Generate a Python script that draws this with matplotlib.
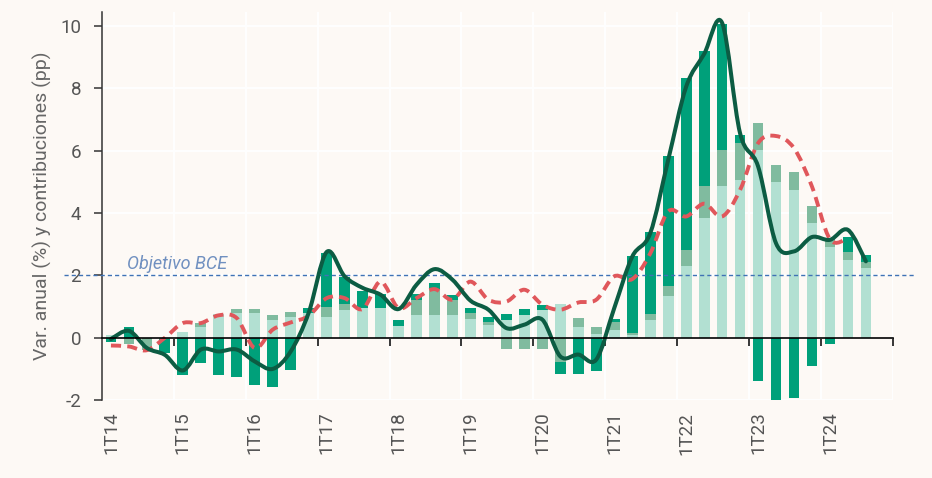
import numpy as np
import matplotlib
matplotlib.use("Agg")
import matplotlib.pyplot as plt
import matplotlib.transforms as mtransforms
from matplotlib.path import Path
from matplotlib.patches import PathPatch

plt.rcParams['font.family'] = ['Roboto', 'DejaVu Sans']
plt.rcParams['axes.unicode_minus'] = False

# Quarterly data, 1T14 .. 3T24 (43 quarters)
n_quarters = 43
year_labels = ["1T14", "1T15", "1T16", "1T17", "1T18", "1T19",
               "1T20", "1T21", "1T22", "1T23", "1T24"]

# Contributions (pp) - light, medium and dark components
contrib_light = [0.1, 0.0, 0.0, 0.0, 0.18, 0.36, 0.76, 0.79, 0.79, 0.56,
                 0.65, 0.79, 0.68, 0.9, 0.95, 0.95, 0.38, 0.74, 0.74, 0.74,
                 0.6, 0.42, 0.58, 0.72, 0.88, 1.09, 0.34, 0.13, 0.26, 0.1,
                 0.56, 1.35, 2.29, 3.84, 4.87, 5.06, 6.03, 4.99, 4.74, 3.68,
                 2.9, 2.48, 2.23]
contrib_medium = [0.0, -0.19, -0.38, -0.05, 0.0, 0.1, 0.0, 0.13, 0.13, 0.16,
                  0.18, 0.0, 0.3, 0.19, 0.0, 0.0, 0.0, 0.48, 0.82, 0.46,
                  0.19, 0.1, -0.36, -0.36, -0.36, -0.78, 0.28, 0.2, 0.24, 0.06,
                  0.2, 0.32, 0.51, 1.04, 1.15, 1.18, 0.85, 0.56, 0.59, 0.53,
                  0.26, 0.27, 0.19]
contrib_dark = [-0.15, 0.34, 0.0, -0.45, -1.19, -0.81, -1.19, -1.27, -1.52, -1.58,
                -1.03, 0.15, 1.73, 0.87, 0.55, 0.46, 0.19, 0.19, 0.19, 0.18,
                0.17, 0.14, 0.17, 0.2, 0.17, -0.38, -1.15, -1.08, 0.09, 2.47,
                2.62, 4.16, 5.52, 4.33, 4.04, 0.27, -1.4, -1.99, -1.93, -0.9,
                -0.19, 0.48, 0.24]

# Annual change (%)
headline = [-0.04, 0.22, -0.33, -0.55, -1.05, -0.38, -0.44, -0.38, -0.76, -1.0,
            -0.44, 0.8, 2.75, 1.97, 1.6, 1.38, 0.92, 1.7, 2.2, 1.86,
            1.19, 0.9, 0.31, 0.42, 0.58, -0.6, -0.54, -0.7, 0.95, 2.6,
            3.35, 5.7, 8.05, 9.1, 10.1, 6.56, 5.5, 3.03, 2.77, 3.23,
            3.14, 3.46, 2.45]
core = [-0.25, -0.28, -0.4, 0.0, 0.47, 0.47, 0.72, 0.63, -0.33, 0.26,
        0.49, 0.7, 1.27, 1.27, 0.92, 1.8, 0.95, 1.27, 1.56, 1.22,
        1.8, 1.22, 1.16, 1.54, 1.06, 0.9, 1.13, 1.22, 1.97, 1.88,
        2.7, 4.05, 3.89, 4.3, 3.89, 4.74, 6.24, 6.47, 6.08, 4.85,
        3.16, 3.19]

ecb_target = 2.0

BG = '#fdf9f5'
C_LIGHT = '#b2e0d2'
C_MEDIUM = '#80bb9f'
C_DARK = '#00a07a'
C_HEAD = '#0c5c43'
C_CORE = '#e0575b'
C_TARGET = '#3f72b5'
C_TEXT = '#555555'


def smooth_path(xs, ys):
    """Smoothed line through the points (Catmull-Rom as cubic Beziers)"""
    pts = np.column_stack([xs, ys]).astype(float)
    n = len(pts)
    verts = [pts[0]]
    codes = [Path.MOVETO]
    for i in range(n - 1):
        p0 = pts[i - 1] if i > 0 else pts[i]
        p1 = pts[i]
        p2 = pts[i + 1]
        p3 = pts[i + 2] if i + 2 < n else pts[i + 1]
        verts += [p1 + (p2 - p0) / 6, p2 - (p3 - p1) / 6, p2]
        codes += [Path.CURVE4] * 3
    return Path(verts, codes)


fig = plt.figure(figsize=(9.32, 4.78), dpi=100, facecolor=BG)
ax = fig.add_axes([0.1094, 0.163, 0.8486, 0.812], facecolor=BG)

x = np.arange(n_quarters)
pos_bottom = np.zeros(n_quarters)
neg_bottom = np.zeros(n_quarters)
for vals, col in [(contrib_light, C_LIGHT), (contrib_medium, C_MEDIUM), (contrib_dark, C_DARK)]:
    v = np.array(vals)
    bottom = np.where(v >= 0, pos_bottom, neg_bottom)
    ax.bar(x, v, width=0.6, bottom=bottom, color=col, zorder=2, linewidth=0)
    pos_bottom += np.where(v > 0, v, 0)
    neg_bottom += np.where(v < 0, v, 0)

# ECB target line (runs a little past the axes on both sides)
trans = mtransforms.blended_transform_factory(ax.transAxes, ax.transData)
ax.plot([-0.048, 1.028], [ecb_target, ecb_target], transform=trans, color=C_TARGET,
        lw=1.0, linestyle=(0, (3, 2.2)), clip_on=False, zorder=3)
ax.text(0.9, ecb_target + 0.07, "Objetivo BCE", ha='left', va='bottom', style='italic',
        fontsize=13, color='#7090c0', zorder=3)

ax.add_patch(PathPatch(smooth_path(x[:len(core)], core), fill=False, edgecolor=C_CORE,
                       lw=2.8, linestyle=(0, (2.6, 1.6)), zorder=4))
ax.add_patch(PathPatch(smooth_path(x, headline), fill=False, edgecolor=C_HEAD,
                       lw=2.9, zorder=5, capstyle='round', joinstyle='round'))

ax.set_xlim(-0.5, n_quarters + 0.5)
ax.set_ylim(-2, 10.45)
ax.set_yticks(np.arange(-2, 11, 2))
ax.set_xticks(np.arange(3.5, n_quarters + 1, 4))
ax.tick_params(axis='x', direction='out', length=6, width=1.1, color='black',
               labelbottom=False)
ax.tick_params(axis='y', direction='out', length=6, width=1.1, color='#333333',
               labelcolor=C_TEXT, labelsize=13.5, pad=9)

for k, lab in enumerate(year_labels):
    ax.text(4 * k, -0.03, lab, transform=mtransforms.blended_transform_factory(ax.transData, ax.transAxes),
            rotation=90, ha='center', va='top', fontsize=13.5, color=C_TEXT)

ax.spines['bottom'].set_position(('data', 0))
ax.spines['bottom'].set_color('black')
ax.spines['bottom'].set_linewidth(1.2)
ax.spines['bottom'].set_zorder(6)
ax.spines['left'].set_color('#333333')
ax.spines['left'].set_linewidth(1.1)
ax.spines['top'].set_visible(False)
ax.spines['right'].set_visible(False)

ax.grid(True, color='white', lw=1.3)
ax.set_axisbelow(True)

ax.set_ylabel("Var. anual (%) y contribuciones (pp)", fontsize=14, color='#666666', labelpad=6)

fig.savefig("out.png", dpi=100, facecolor=BG)
